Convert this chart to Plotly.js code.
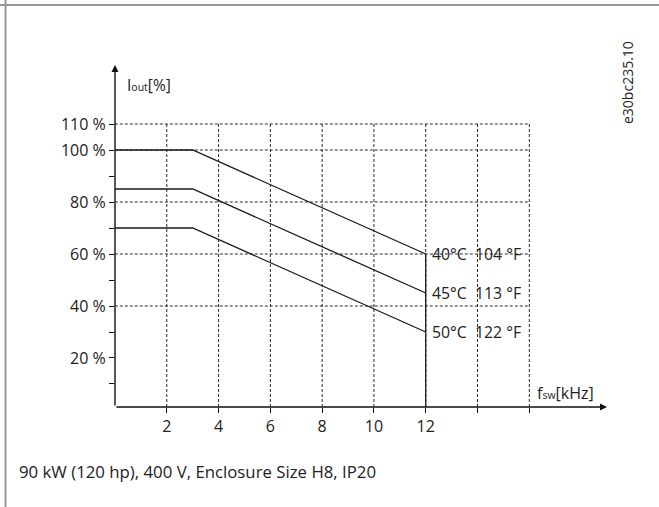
<!DOCTYPE html>
<html>
<head>
<meta charset="utf-8">
<script src="https://cdn.plot.ly/plotly-3.0.1.min.js"></script>
<style>html,body{margin:0;padding:0;background:#fff;}</style>
</head>
<body>
<div id="chart" style="width:659px;height:507px;"></div>
<script>
// ---- data ----
const freq = [0, 3, 12];                 // switching frequency, kHz
const i40 = [100, 100, 60];              // Iout % at 40 °C
const i45 = [85, 85, 45];                // Iout % at 45 °C
const i50 = [70, 70, 30];                // Iout % at 50 °C
const seriesLabels = ['40°C  104 °F', '45°C  113 °F', '50°C  122 °F'];
const cutoffFreq = 12;
const xTickVals = [2, 4, 6, 8, 10, 12, 14, 16];
const xTickText = ['2', '4', '6', '8', '10', '12', '', ''];
const yTickVals = [10, 20, 30, 40, 50, 60, 70, 80, 90, 100, 110];
const yTickText = ['', '20 %', '', '40 %', '', '60 %', '', '80 %', '', '100 %', '110 %'];
const yGridVals = [40, 60, 80, 100, 110];
const xGridVals = [2, 4, 6, 8, 10, 12, 14, 16];
const caption = '90 kW (120 hp), 400 V, Enclosure Size H8, IP20';
const docId = 'e30bc235.10';

// ---- layout geometry ----
const W = 659, H = 507;
const M = {l: 115, r: 52, t: 65, b: 100};
const xRange = [0, 19];
const yRange = [1.15, 132.7];
const pw = W - M.l - M.r, ph = H - M.t - M.b;
const pxX = px => (px - M.l) / pw;
const pxY = py => (H - M.b - py) / ph;

const FONT = '"Open Sans", "Noto Sans", sans-serif';
const TXT = '#222';
const lineStyle = {color: '#1a1a1a', width: 1.3};

const traces = [
  {x: freq, y: i40, mode: 'lines', line: lineStyle, hoverinfo: 'skip'},
  {x: freq, y: i45, mode: 'lines', line: lineStyle, hoverinfo: 'skip'},
  {x: freq, y: i50, mode: 'lines', line: lineStyle, hoverinfo: 'skip'},
  {x: [cutoffFreq, cutoffFreq], y: [i40[i40.length - 1], yRange[0]], mode: 'lines', line: lineStyle, hoverinfo: 'skip'}
];

const shapes = [];
const gridLine = {color: '#2a2a2a', width: 1, dash: '3px,2px'};
yGridVals.forEach(v => shapes.push({type: 'line', xref: 'x', yref: 'y', x0: -0.2, x1: xGridVals[xGridVals.length - 1], y0: v, y1: v, line: gridLine, layer: 'below'}));
xGridVals.forEach(v => shapes.push({type: 'line', xref: 'x', yref: 'y', x0: v, x1: v, y0: yRange[0], y1: yGridVals[yGridVals.length - 1], line: gridLine, layer: 'below'}));
// page frame
shapes.push({type: 'line', xref: 'paper', yref: 'paper', x0: pxX(0), x1: pxX(W), y0: pxY(5), y1: pxY(5), line: {color: '#8f979b', width: 2}});
shapes.push({type: 'line', xref: 'paper', yref: 'paper', x0: pxX(5.5), x1: pxX(5.5), y0: pxY(0), y1: pxY(H), line: {color: '#8f979b', width: 2}});

const annotations = [];
// axis arrows
annotations.push({x: 0, y: yRange[1], ax: 0, ay: yRange[0], xref: 'x', yref: 'y', axref: 'x', ayref: 'y', text: '', showarrow: true, arrowhead: 2, arrowsize: 1, arrowwidth: 1.4, arrowcolor: '#111'});
annotations.push({x: xRange[1], y: yRange[0], ax: 0, ay: yRange[0], xref: 'x', yref: 'y', axref: 'x', ayref: 'y', text: '', showarrow: true, arrowhead: 2, arrowsize: 1, arrowwidth: 1.4, arrowcolor: '#111'});
// series labels
[i40, i45, i50].forEach((s, k) => annotations.push({x: freq[freq.length - 1], y: s[s.length - 1], xref: 'x', yref: 'y', text: seriesLabels[k], showarrow: false, xanchor: 'left', yanchor: 'middle', xshift: 4, font: {family: FONT, size: 15.8, color: TXT}}));
// axis titles
annotations.push({x: 0, y: 125, xref: 'x', yref: 'y', text: 'I<span style="font-size:10.5px">out</span>[%]', showarrow: false, xanchor: 'left', yanchor: 'middle', xshift: 10, font: {family: FONT, size: 15.5, color: TXT}});
annotations.push({x: 16, y: 6.5, xref: 'x', yref: 'y', text: 'f<span style="font-size:10.5px">sw</span>[kHz]', showarrow: false, xanchor: 'left', yanchor: 'middle', xshift: 6, font: {family: FONT, size: 16, color: TXT}});
// doc id
annotations.push({x: pxX(627), y: pxY(83), xref: 'paper', yref: 'paper', text: docId, textangle: -90, showarrow: false, xanchor: 'center', yanchor: 'middle', font: {family: FONT, size: 14, color: TXT}});
// caption
annotations.push({x: pxX(17), y: pxY(471), xref: 'paper', yref: 'paper', text: caption, showarrow: false, xanchor: 'left', yanchor: 'middle', font: {family: FONT, size: 16.8, color: TXT}});

const layout = {
  width: W, height: H,
  margin: M,
  paper_bgcolor: '#fff', plot_bgcolor: '#fff',
  showlegend: false,
  xaxis: {range: xRange, showgrid: false, zeroline: false, showline: false,
          tickmode: 'array', tickvals: xTickVals, ticktext: xTickText,
          ticks: 'outside', ticklen: 5, tickwidth: 1, tickcolor: '#111',
          tickfont: {family: FONT, size: 16, color: TXT}},
  yaxis: {range: yRange, showgrid: false, zeroline: false, showline: false,
          tickmode: 'array', tickvals: yTickVals, ticktext: yTickText,
          ticks: 'outside', ticklen: 5, tickwidth: 1, tickcolor: '#111',
          tickfont: {family: FONT, size: 16, color: TXT}},
  shapes: shapes,
  annotations: annotations
};

Plotly.newPlot('chart', traces, layout, {staticPlot: true, displayModeBar: false});
</script>
</body>
</html>
